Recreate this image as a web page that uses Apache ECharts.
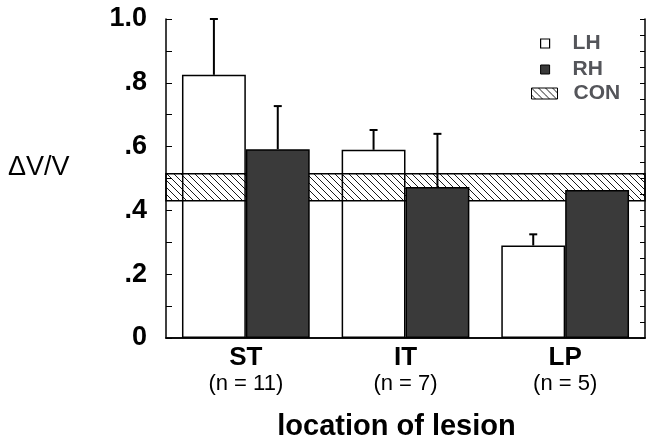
<!DOCTYPE html>
<html>
<head>
<meta charset="utf-8">
<script src="https://cdn.jsdelivr.net/npm/echarts@6/dist/echarts.min.js"></script>
<style>
  html, body { margin: 0; padding: 0; background: #fff; }
  #chart { width: 647px; height: 441px; }
</style>
</head>
<body>
<div id="chart"></div>
<script>
// data
var categories = ['ST', 'IT', 'LP'];
var groupSizes = ['(n = 11)', '(n = 7)', '(n = 5)'];
var lhValues = [0.825, 0.59, 0.29];
var lhErrors = [0.175, 0.062, 0.035];
var rhValues = [0.592, 0.473, 0.464];
var rhErrors = [0.135, 0.167, 0];
var conBand = [0.43, 0.515];
var yTickLabels = ['0', '.2', '.4', '.6', '.8', '1.0'];

var FONT = '"Liberation Sans", Arial, sans-serif';

// diagonal hatch for the control band
function hatch() {
    var s = 7, c = document.createElement('canvas');
    c.width = s; c.height = s;
    var ctx = c.getContext('2d');
    ctx.strokeStyle = '#000';
    ctx.lineWidth = 0.9;
    for (var k = -1; k <= 1; k++) {
        ctx.beginPath();
        ctx.moveTo(k * s, 0);
        ctx.lineTo(k * s + s, s);
        ctx.stroke();
    }
    return { image: c, repeat: 'repeat' };
}
var hatchFill = hatch();

function errorData(values, errors, side) {
    return values.map(function (v, i) { return [i, v, errors[i], side]; });
}

function renderError(params, api) {
    var err = api.value(2);
    if (!err) return null;
    var catW = api.size([1, 0])[0];
    var base = api.coord([api.value(0), api.value(1)]);
    var top = api.coord([api.value(0), api.value(1) + err]);
    var x = base[0] + api.value(3) * 0.2 * catW;
    var style = { stroke: '#000', lineWidth: 2 };
    return {
        type: 'group',
        children: [
            { type: 'line', shape: { x1: x, y1: base[1], x2: x, y2: top[1] }, style: style },
            { type: 'line', shape: { x1: x - 4, y1: top[1], x2: x + 4, y2: top[1] }, style: style }
        ]
    };
}

var chart = echarts.init(document.getElementById('chart'));
chart.setOption({
    animation: false,
    backgroundColor: '#fff',
    textStyle: { fontFamily: FONT, color: '#000' },
    grid: { left: 166, right: 2, top: 19, bottom: 103, outerBoundsMode: 'none' },
    legend: [
        {
            left: 535, top: 28, orient: 'vertical', itemGap: 5,
            itemWidth: 9, itemHeight: 9,
            textStyle: { fontSize: 21, fontWeight: 'bold', fontFamily: FONT, padding: [0, 0, 0, 18] },
            data: [
                { name: 'LH', icon: 'rect', itemStyle: { color: '#fff', borderColor: '#000', borderWidth: 1.2 } },
                { name: 'RH', icon: 'rect', itemStyle: { color: '#3a3a3a', borderColor: '#000', borderWidth: 1 } }
            ]
        },
        {
            left: 526, top: 78, itemWidth: 26, itemHeight: 11,
            textStyle: { fontSize: 21, fontWeight: 'bold', fontFamily: FONT, padding: [0, 0, 0, 11] },
            data: [
                { name: 'CON', icon: 'rect', itemStyle: { color: hatchFill, borderColor: '#000', borderWidth: 1 } }
            ]
        }
    ],
    graphic: [{
        type: 'text', left: 8, top: 154,
        style: { text: 'ΔV/V', font: '27px ' + FONT, fill: '#000' }
    }],
    xAxis: [
        {
            type: 'category', data: categories, position: 'bottom',
            axisLine: { lineStyle: { color: '#000', width: 1.5 } },
            axisTick: { inside: true, alignWithLabel: true, length: 5, lineStyle: { color: '#000' } },
            axisLabel: {
                margin: 6,
                formatter: function (v, i) { return '{a|' + v + '}\n{b|' + groupSizes[i] + '}'; },
                rich: {
                    a: { fontSize: 26, fontWeight: 'bold', fontFamily: FONT, color: '#000', lineHeight: 28 },
                    b: { fontSize: 22, fontFamily: FONT, color: '#000', lineHeight: 24 }
                }
            },
            name: 'location of lesion', nameLocation: 'middle', nameGap: 74,
            nameTextStyle: { fontSize: 29, fontWeight: 'bold', fontFamily: FONT, color: '#000', padding: [0, 18, 0, 0] }
        },
        {
            type: 'category', data: categories, position: 'top',
            axisLine: { lineStyle: { color: '#000', width: 1.5 } },
            axisTick: { inside: true, alignWithLabel: true, length: 5, lineStyle: { color: '#000' } },
            axisLabel: { show: false }
        }
    ],
    yAxis: [
        {
            type: 'value', min: 0, max: 1, interval: 0.2,
            axisLine: { show: true, lineStyle: { color: '#000', width: 1.5 } },
            axisTick: { show: true, inside: true, length: 6, lineStyle: { color: '#000' } },
            minorTick: { show: true, splitNumber: 2, length: 6, lineStyle: { color: '#000' } },
            splitLine: { show: false },
            axisLabel: {
                margin: 19, fontSize: 27, fontWeight: 'bold', fontFamily: FONT, color: '#000',
                formatter: function (v) { return yTickLabels[Math.round(v / 0.2)]; }
            }
        },
        {
            type: 'value', min: 0, max: 1, interval: 0.05, position: 'right',
            axisLine: { show: true, lineStyle: { color: '#000', width: 1.5 } },
            axisTick: { show: true, inside: true, length: 5, lineStyle: { color: '#000' } },
            splitLine: { show: false },
            axisLabel: { show: false }
        }
    ],
    series: [
        {
            name: 'LH', type: 'bar', data: lhValues, z: 2,
            barWidth: '40%', barGap: '0%',
            itemStyle: { color: 'rgba(255,255,255,0)', borderColor: '#000', borderWidth: 1.5 }
        },
        {
            name: 'RH', type: 'bar', data: rhValues, z: 4,
            barWidth: '40%', barGap: '0%',
            itemStyle: { color: '#3a3a3a', borderColor: '#000', borderWidth: 1.5 }
        },
        {
            name: 'CON', type: 'line', data: [], z: 3,
            itemStyle: { color: hatchFill },
            markArea: {
                silent: true,
                itemStyle: { color: hatchFill, borderColor: '#000', borderWidth: 1.5 },
                data: [[{ yAxis: conBand[0] }, { yAxis: conBand[1] }]]
            }
        },
        {
            type: 'custom', z: 5, renderItem: renderError,
            data: errorData(lhValues, lhErrors, -1)
        },
        {
            type: 'custom', z: 5, renderItem: renderError,
            data: errorData(rhValues, rhErrors, 1)
        }
    ]
});
</script>
</body>
</html>
